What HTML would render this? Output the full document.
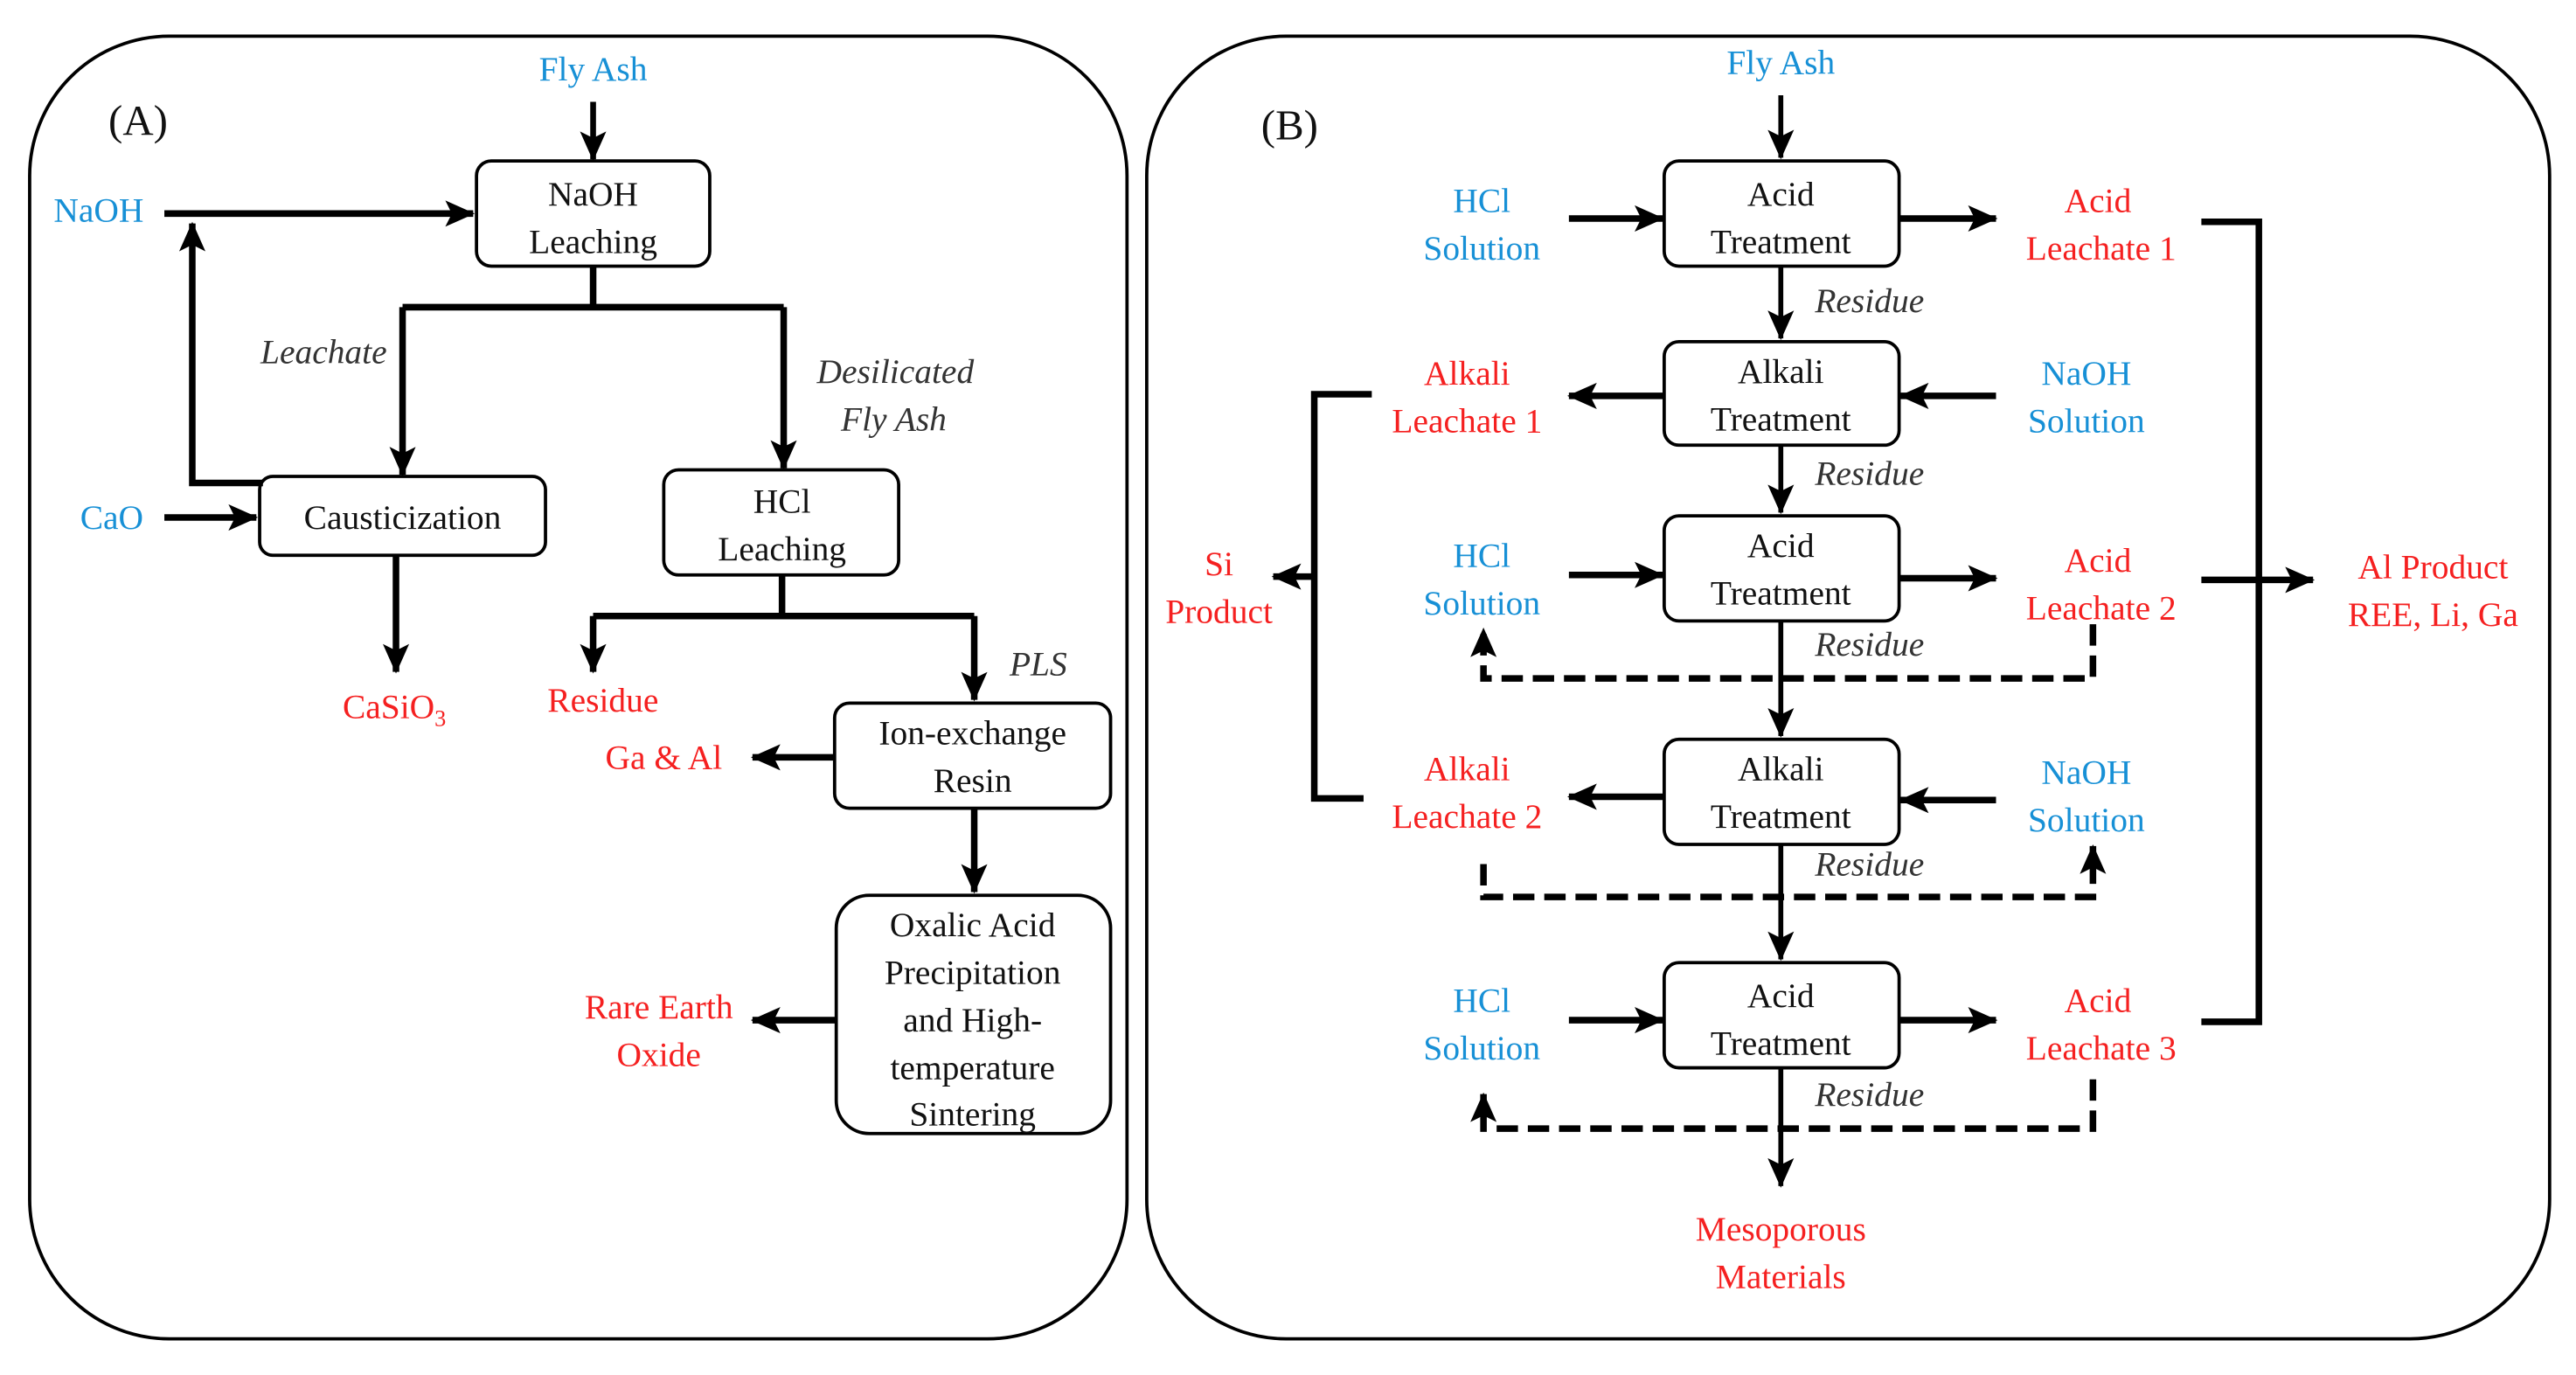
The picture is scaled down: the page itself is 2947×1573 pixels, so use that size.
<!DOCTYPE html>
<html><head><meta charset="utf-8"><style>
html,body{margin:0;padding:0;background:#fff}
svg{display:block}
text{font-family:"Liberation Serif","Times New Roman","DejaVu Serif",serif;font-size:21px;text-anchor:middle}
.b{fill:#1790d6}.r{fill:#f52020}.k{fill:#111}.i{font-style:italic;fill:#333}
</style></head><body>
<svg width="2947" height="1573" viewBox="0 0 1568 837" xmlns="http://www.w3.org/2000/svg" font-family="Liberation Serif, serif">
<defs>
<marker id="a" markerUnits="userSpaceOnUse" markerWidth="18" markerHeight="16" refX="17" refY="8" orient="auto"><path d="M0,0 L18,8 L0,16 L4,8 Z" fill="#000"/></marker>
</defs>
<g fill="none" stroke="#000">
<rect x="18" y="22" width="668" height="793" rx="85" stroke-width="2"/>
<rect x="698" y="22" width="854" height="793" rx="85" stroke-width="2"/>
<g stroke-width="2">
<rect x="290" y="98" width="142" height="64" rx="9"/>
<rect x="158" y="290" width="174" height="48" rx="8"/>
<rect x="404" y="286" width="143" height="64" rx="9"/>
<rect x="508" y="428" width="168" height="64" rx="9"/>
<rect x="509" y="545" width="167" height="145" rx="20"/>
<rect x="1013" y="98" width="143" height="64" rx="9"/>
<rect x="1013" y="208" width="143" height="63" rx="9"/>
<rect x="1013" y="314" width="143" height="64" rx="9"/>
<rect x="1013" y="450" width="143" height="64" rx="9"/>
<rect x="1013" y="586" width="143" height="64" rx="9"/>
</g>
<g stroke-width="4">
<path d="M361,62 V97" stroke-width="3.5" marker-end="url(#a)"/>
<path d="M100,130 H288" marker-end="url(#a)"/>
<path d="M361,162 V187 M245,187 H477"/>
<path d="M245,187 V289" marker-end="url(#a)"/>
<path d="M477,187 V285" marker-end="url(#a)"/>
<path d="M160,294 H117 V136" marker-end="url(#a)"/>
<path d="M100,315 H156" marker-end="url(#a)"/>
<path d="M241,338 V409" marker-end="url(#a)"/>
<path d="M476,350 V375 M361,375 H593"/>
<path d="M361,375 V409" marker-end="url(#a)"/>
<path d="M593,375 V426" marker-end="url(#a)"/>
<path d="M508,461 H458" marker-end="url(#a)"/>
<path d="M593,492 V543" marker-end="url(#a)"/>
<path d="M509,621 H458" marker-end="url(#a)"/>
</g>
<g stroke-width="3">
<path d="M1084,58 V96" marker-end="url(#a)"/>
<path d="M1084,162 V206" marker-end="url(#a)"/>
<path d="M1084,271 V312" marker-end="url(#a)"/>
<path d="M1084,378 V448" marker-end="url(#a)"/>
<path d="M1084,514 V584" marker-end="url(#a)"/>
<path d="M1084,650 V722" marker-end="url(#a)"/>
</g>
<g stroke-width="4">
<path d="M955,133 H1012" marker-end="url(#a)"/>
<path d="M1156,133 H1215" marker-end="url(#a)"/>
<path d="M1013,241 H955" marker-end="url(#a)"/>
<path d="M1215,241 H1157" marker-end="url(#a)"/>
<path d="M955,350 H1012" marker-end="url(#a)"/>
<path d="M1156,352 H1215" marker-end="url(#a)"/>
<path d="M1013,485 H955" marker-end="url(#a)"/>
<path d="M1215,487 H1157" marker-end="url(#a)"/>
<path d="M955,621 H1012" marker-end="url(#a)"/>
<path d="M1156,621 H1215" marker-end="url(#a)"/>
<path d="M835,240 H800 V486 H830"/>
<path d="M800,351 H775" marker-end="url(#a)"/>
<path d="M1340,135 H1375 V622 H1340"/>
<path d="M1340,353 H1408" marker-end="url(#a)"/>
</g>
<g stroke-width="4" stroke-dasharray="13,6">
<path d="M1274,380 V413 H903 V383" marker-end="url(#a)"/>
<path d="M903,526 V546 H1274 V515" marker-end="url(#a)"/>
<path d="M1274,657 V687 H903 V666" marker-end="url(#a)"/>
</g>
</g>
<text x="84" y="82" class="k" style="font-size:26px">(A)</text>
<text x="361" y="49" class="b">Fly Ash</text>
<text x="361" y="125" class="k">NaOH</text>
<text x="361" y="154" class="k">Leaching</text>
<text x="60" y="135" class="b">NaOH</text>
<text x="197" y="221" class="i">Leachate</text>
<text x="545" y="233" class="i">Desilicated</text>
<text x="544" y="262" class="i">Fly Ash</text>
<text x="68" y="322" class="b">CaO</text>
<text x="245" y="322" class="k">Causticization</text>
<text x="476" y="312" class="k">HCl</text>
<text x="476" y="341" class="k">Leaching</text>
<text x="240" y="437" class="r">CaSiO<tspan style="font-size:14px" dy="5">3</tspan></text>
<text x="367" y="433" class="r">Residue</text>
<text x="632" y="411" class="i">PLS</text>
<text x="592" y="453" class="k">Ion-exchange</text>
<text x="592" y="482" class="k">Resin</text>
<text x="404" y="468" class="r">Ga &amp; Al</text>
<text x="592" y="570" class="k">Oxalic Acid</text>
<text x="592" y="599" class="k">Precipitation</text>
<text x="592" y="628" class="k">and High-</text>
<text x="592" y="657" class="k">temperature</text>
<text x="592" y="685" class="k">Sintering</text>
<text x="401" y="620" class="r">Rare Earth</text>
<text x="401" y="649" class="r">Oxide</text>

<text x="785" y="85" class="k" style="font-size:26px">(B)</text>
<text x="1084" y="45" class="b">Fly Ash</text>
<text x="1084" y="125" class="k">Acid</text><text x="1084" y="154" class="k">Treatment</text>
<text x="1084" y="233" class="k">Alkali</text><text x="1084" y="262" class="k">Treatment</text>
<text x="1084" y="339" class="k">Acid</text><text x="1084" y="368" class="k">Treatment</text>
<text x="1084" y="475" class="k">Alkali</text><text x="1084" y="504" class="k">Treatment</text>
<text x="1084" y="613" class="k">Acid</text><text x="1084" y="642" class="k">Treatment</text>
<text x="902" y="129" class="b">HCl</text><text x="902" y="158" class="b">Solution</text>
<text x="902" y="345" class="b">HCl</text><text x="902" y="374" class="b">Solution</text>
<text x="902" y="616" class="b">HCl</text><text x="902" y="645" class="b">Solution</text>
<text x="1270" y="234" class="b">NaOH</text><text x="1270" y="263" class="b">Solution</text>
<text x="1270" y="477" class="b">NaOH</text><text x="1270" y="506" class="b">Solution</text>
<text x="1277" y="129" class="r">Acid</text><text x="1279" y="158" class="r">Leachate 1</text>
<text x="1277" y="348" class="r">Acid</text><text x="1279" y="377" class="r">Leachate 2</text>
<text x="1277" y="616" class="r">Acid</text><text x="1279" y="645" class="r">Leachate 3</text>
<text x="893" y="234" class="r">Alkali</text><text x="893" y="263" class="r">Leachate 1</text>
<text x="893" y="475" class="r">Alkali</text><text x="893" y="504" class="r">Leachate 2</text>
<text x="742" y="350" class="r">Si</text><text x="742" y="379" class="r">Product</text>
<text x="1481" y="352" class="r">Al Product</text><text x="1481" y="381" class="r">REE, Li, Ga</text>
<text x="1084" y="755" class="r">Mesoporous</text><text x="1084" y="784" class="r">Materials</text>
<text x="1138" y="190" class="i">Residue</text>
<text x="1138" y="295" class="i">Residue</text>
<text x="1138" y="399" class="i">Residue</text>
<text x="1138" y="533" class="i">Residue</text>
<text x="1138" y="673" class="i">Residue</text>
</svg>
</body></html>
